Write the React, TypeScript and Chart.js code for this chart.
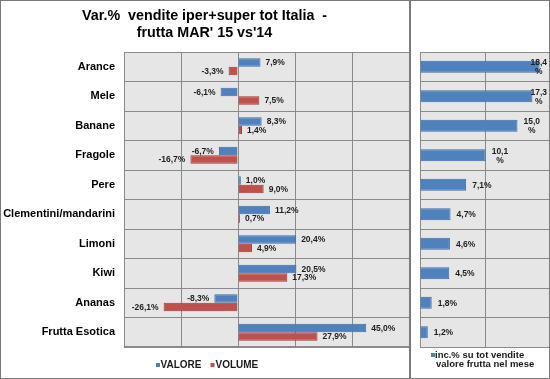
import React, { useEffect, useRef } from "react";
import { Chart, registerables } from "chart.js";
Chart.register(...registerables);

const categories = ["Arance", "Mele", "Banane", "Fragole", "Pere", "Clementini/mandarini", "Limoni", "Kiwi", "Ananas", "Frutta Esotica"];
const valore = [7.9, -6.1, 8.3, -6.7, 1.0, 11.2, 20.4, 20.5, -8.3, 45.0];
const volume = [-3.3, 7.5, 1.4, -16.7, 9.0, 0.7, 4.9, 17.3, -26.1, 27.9];
const incidenza = [18.4, 17.3, 15.0, 10.1, 7.1, 4.7, 4.6, 4.5, 1.8, 1.2];
const titleLines = ["Var.%  vendite iper+super tot Italia  -", "frutta MAR' 15 vs'14"];
const leftLegend = ["VALORE", "VOLUME"];
const rightLegend = ["inc.% su tot vendite", "valore frutta nel mese"];
const leftRange = [-40, 60, 20];
const rightRange = [0, 20, 10];

const FONT = "'Liberation Sans', Arial, sans-serif";
const BLUE = "#4f81bd";
const BLUE_B = "#3e6ca5";
const RED = "#c0504d";
const RED_B = "#9c3b38";
const GRID = "#8a8a8a";
const PLOT_BG = "#e6e6e6";
const LABEL = "#1e1e1e";

const fmt = (v: number) => v.toFixed(1).replace(".", ",") + "%";

const plotBg = {
  id: "plotBg",
  beforeDraw(chart: any) {
    const { ctx, chartArea: a } = chart;
    ctx.save();
    ctx.fillStyle = PLOT_BG;
    ctx.fillRect(a.left, a.top, a.right - a.left, a.bottom - a.top);
    ctx.restore();
  },
};

const leftLabels = {
  id: "leftLabels",
  afterDatasetsDraw(chart: any) {
    const { ctx } = chart;
    ctx.save();
    ctx.font = `bold 8.5px ${FONT}`;
    ctx.fillStyle = LABEL;
    ctx.textBaseline = "middle";
    chart.data.datasets.forEach((ds: any, di: number) => {
      const meta = chart.getDatasetMeta(di);
      meta.data.forEach((el: any, i: number) => {
        const v = ds.data[i];
        if (v >= 0) {
          ctx.textAlign = "left";
          ctx.fillText(fmt(v), el.x + 5, el.y + 0.5);
        } else {
          ctx.textAlign = "right";
          ctx.fillText(fmt(v), el.x - 5, el.y + 0.5);
        }
      });
    });
    // legend
    ctx.font = `bold 10px ${FONT}`;
    ctx.textAlign = "left";
    ctx.fillStyle = BLUE;
    ctx.fillRect(156, 363, 4, 4);
    ctx.fillStyle = "#1a1a1a";
    ctx.fillText(leftLegend[0], 160.5, 365.5);
    ctx.fillStyle = RED;
    ctx.fillRect(210.5, 363, 4, 4);
    ctx.fillStyle = "#1a1a1a";
    ctx.fillText(leftLegend[1], 215.5, 365.5);
    ctx.restore();
  },
};

const rightLabels = {
  id: "rightLabels",
  afterDatasetsDraw(chart: any) {
    const { ctx, chartArea } = chart;
    ctx.save();
    ctx.font = `bold 8.5px ${FONT}`;
    ctx.fillStyle = LABEL;
    ctx.textBaseline = "middle";
    const ds = chart.data.datasets[0];
    const meta = chart.getDatasetMeta(0);
    meta.data.forEach((el: any, i: number) => {
      const v = ds.data[i];
      if (v >= 10) {
        const num = v.toFixed(1).replace(".", ",");
        const w = ctx.measureText(num).width;
        let x = el.x + 6;
        if (x + w > chartArea.right - 3) x = chartArea.right - 3 - w;
        ctx.textAlign = "left";
        ctx.fillText(num, x, el.y - 4);
        ctx.textAlign = "center";
        ctx.fillText("%", x + w / 2, el.y + 5);
      } else {
        ctx.textAlign = "left";
        ctx.fillText(fmt(v), el.x + 6, el.y + 0.5);
      }
    });
    // legend
    ctx.font = `bold 9.5px ${FONT}`;
    ctx.textAlign = "left";
    ctx.fillStyle = BLUE;
    ctx.fillRect(20, 353, 4, 4);
    ctx.fillStyle = "#1a1a1a";
    ctx.fillText(rightLegend[0], 24, 355.5);
    ctx.fillText(rightLegend[1], 25, 364.5);
    ctx.restore();
  },
};

export default function App() {
  const leftRef = useRef<HTMLCanvasElement>(null);
  const rightRef = useRef<HTMLCanvasElement>(null);

  useEffect(() => {
    document.body.style.margin = "0";
    const left = new Chart(leftRef.current!, {
      type: "bar",
      data: {
        labels: categories,
        datasets: [
          { label: leftLegend[0], data: valore, backgroundColor: BLUE, borderColor: BLUE_B, borderWidth: 1, categoryPercentage: 0.58, barPercentage: 1 },
          { label: leftLegend[1], data: volume, backgroundColor: RED, borderColor: RED_B, borderWidth: 1, categoryPercentage: 0.58, barPercentage: 1 },
        ],
      },
      options: {
        indexAxis: "y",
        responsive: false,
        animation: false,
        layout: { padding: { top: 0, bottom: 32, left: 0, right: 1 } },
        plugins: {
          legend: { display: false },
          tooltip: { enabled: false },
          title: {
            display: true,
            text: titleLines,
            color: "#000",
            font: { family: FONT, size: 14.3, weight: "bold", lineHeight: 1.19 },
            padding: { top: 8, bottom: 10 },
          },
        },
        scales: {
          x: {
            min: leftRange[0],
            max: leftRange[1],
            ticks: { display: false, stepSize: leftRange[2] },
            grid: { color: GRID, drawTicks: false },
            border: { color: GRID },
            afterFit: (s: any) => { s.height = 0; },
          },
          y: {
            ticks: { color: "#000", font: { family: FONT, size: 11, weight: "bold" }, padding: 9 },
            grid: { color: GRID, drawTicks: false, offset: true },
            border: { color: GRID },
            afterFit: (s: any) => { s.width = 124; },
          },
        },
      } as any,
      plugins: [plotBg, leftLabels],
    });

    const right = new Chart(rightRef.current!, {
      type: "bar",
      data: {
        labels: categories,
        datasets: [
          { label: rightLegend.join(" "), data: incidenza, backgroundColor: BLUE, borderColor: BLUE_B, borderWidth: 1, categoryPercentage: 1, barPercentage: 0.41 },
        ],
      },
      options: {
        indexAxis: "y",
        responsive: false,
        animation: false,
        layout: { padding: { top: 52, bottom: 32, left: 0, right: 0 } },
        plugins: { legend: { display: false }, tooltip: { enabled: false }, title: { display: false } },
        scales: {
          x: {
            min: rightRange[0],
            max: rightRange[1],
            ticks: { display: false, stepSize: rightRange[2] },
            grid: { color: GRID, drawTicks: false },
            border: { color: GRID },
            afterFit: (s: any) => { s.height = 0; },
          },
          y: {
            ticks: { display: false },
            grid: { color: GRID, drawTicks: false, offset: true },
            border: { color: GRID },
            afterFit: (s: any) => { s.width = 9; },
          },
        },
      } as any,
      plugins: [plotBg, rightLabels],
    });

    return () => {
      left.destroy();
      right.destroy();
    };
  }, []);

  return (
    <div style={{ position: "absolute", left: 0, top: 0, width: 550, height: 379, background: "#fff", overflow: "hidden" }}>
      <canvas ref={leftRef} width={410} height={379} style={{ position: "absolute", left: 0, top: 0, width: 410, height: 379 }} />
      <canvas ref={rightRef} width={139} height={379} style={{ position: "absolute", left: 411, top: 0, width: 139, height: 379 }} />
      <div style={{ position: "absolute", left: 409, top: 0, width: 2, height: 379, background: "#7a7a7a" }} />
      <div style={{ position: "absolute", left: 0, top: 0, width: 550, height: 379, boxSizing: "border-box", border: "1px solid #7a7a7a", pointerEvents: "none" }} />
    </div>
  );
}
